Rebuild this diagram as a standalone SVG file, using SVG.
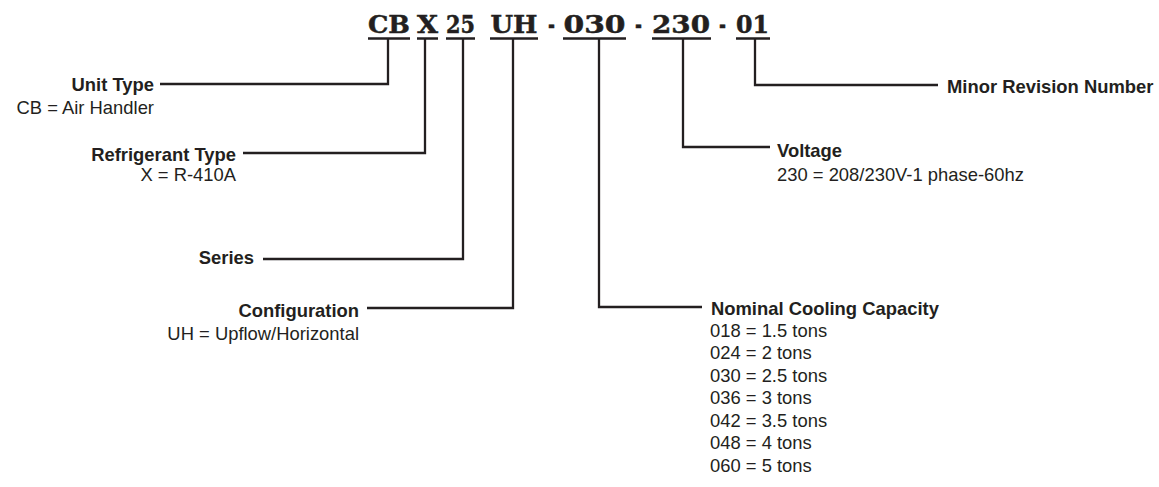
<svg xmlns="http://www.w3.org/2000/svg" width="1159" height="487" viewBox="0 0 1159 487">
<style>
.code{font-family:"DejaVu Serif",serif;font-weight:bold;font-size:25px;fill:#231f20;text-anchor:middle;stroke:#231f20;stroke-width:0.5}
.t{font-family:"Liberation Sans",Arial,sans-serif;font-size:18.4px;fill:#231f20}
.b{font-weight:bold}
.r{text-anchor:end}
.ul{stroke:#231f20;stroke-width:2.6;fill:none}
.ln{stroke:#231f20;stroke-width:2.3;fill:none}
</style>
<rect width="1159" height="487" fill="#fff"/>
<g id="code">
<text class="code" x="389" y="33" textLength="42" lengthAdjust="spacingAndGlyphs">CB</text>
<text class="code" x="427.5" y="33" textLength="21" lengthAdjust="spacingAndGlyphs">X</text>
<text class="code" x="460.5" y="33" textLength="29" lengthAdjust="spacingAndGlyphs">25</text>
<text class="code" x="514" y="33" textLength="47" lengthAdjust="spacingAndGlyphs">UH</text>
<text class="code" x="551.5" y="33" textLength="7" lengthAdjust="spacingAndGlyphs">-</text>
<text class="code" x="594.5" y="33" textLength="62" lengthAdjust="spacingAndGlyphs">030</text>
<text class="code" x="638.5" y="33" textLength="7" lengthAdjust="spacingAndGlyphs">-</text>
<text class="code" x="681" y="33" textLength="58" lengthAdjust="spacingAndGlyphs">230</text>
<text class="code" x="722.5" y="33" textLength="7" lengthAdjust="spacingAndGlyphs">-</text>
<text class="code" x="752.5" y="33" textLength="33" lengthAdjust="spacingAndGlyphs">01</text>
<path class="ul" d="M368,38.5H410M417,38.5H438M446,38.5H475M490,38.5H538M563,38.5H626M652,38.5H711M736,38.5H770"/>
</g>
<g id="connectors">
<path class="ln" d="M388,38V84H160"/>
<path class="ln" d="M425,38V153H243"/>
<path class="ln" d="M463,38V259H263"/>
<path class="ln" d="M513,38V308H367"/>
<path class="ln" d="M599,38V307H702"/>
<path class="ln" d="M683,38V147H770"/>
<path class="ln" d="M755,38V85H938"/>
</g>
<g id="unit-type">
<text class="t b r" x="154" y="91">Unit Type</text>
<text class="t r" x="154" y="114">CB = Air Handler</text>
</g>
<g id="refrigerant-type">
<text class="t b r" x="236" y="161">Refrigerant Type</text>
<text class="t r" x="236" y="181">X = R-410A</text>
</g>
<g id="series">
<text class="t b r" x="254" y="264">Series</text>
</g>
<g id="configuration">
<text class="t b r" x="359" y="317">Configuration</text>
<text class="t r" x="359" y="340">UH = Upflow/Horizontal</text>
</g>
<g id="nominal-cooling-capacity">
<text class="t b" x="711" y="315">Nominal Cooling Capacity</text>
<text class="t" x="710" y="337">018 = 1.5 tons</text>
<text class="t" x="710" y="359">024 = 2 tons</text>
<text class="t" x="710" y="382">030 = 2.5 tons</text>
<text class="t" x="710" y="404">036 = 3 tons</text>
<text class="t" x="710" y="427">042 = 3.5 tons</text>
<text class="t" x="710" y="449">048 = 4 tons</text>
<text class="t" x="710" y="472">060 = 5 tons</text>
</g>
<g id="voltage">
<text class="t b" x="777" y="157">Voltage</text>
<text class="t" x="777" y="181">230 = 208/230V-1 phase-60hz</text>
</g>
<g id="minor-revision-number">
<text class="t b" x="947" y="93">Minor Revision Number</text>
</g>
</svg>
